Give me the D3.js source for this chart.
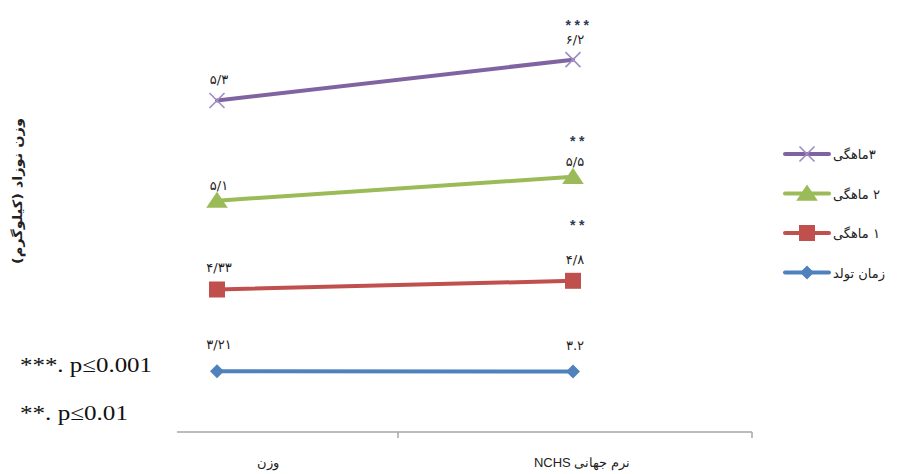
<!DOCTYPE html>
<html><head><meta charset="utf-8">
<script src="https://cdn.jsdelivr.net/npm/d3@7"></script>
<style>body{margin:0;background:#fff}svg{display:block}</style>
</head><body>
<svg id="chart" width="906" height="474"></svg>
<script>
// ---- data ----
const categories = ["وزن", "نرم جهانی NCHS"];
const seriesNames = ["زمان تولد", "۱ ماهگی", "۲ ماهگی", "۳ماهگی"];
const birthValues = [3.21, 3.2];
const month1Values = [4.33, 4.8];
const month2Values = [4.7, 5.5];
const month3Values = [5.3, 6.2];
const birthLabels = ["۳/۲۱", "۳.۲"];
const month1Labels = ["۴/۳۳", "۴/۸"];
const month2Labels = ["۵/۱", "۵/۵"];
const month3Labels = ["۵/۳", "۶/۲"];
const month1Stars = ["", "**"];
const month2Stars = ["", "**"];
const month3Stars = ["", "***"];
const yTitle = "وزن نوزاد (کیلوگرم)";
const pNotes = ["***. p≤0.001", "**. p≤0.01"];

// ---- styles ----
const seriesStyle = [
  {color:"#4F81BD", marker:"diamond", labelDy:27, starDy:0},
  {color:"#C0504D", marker:"square", labelDy:22, starDy:57},
  {color:"#9BBB59", marker:"triangle", labelDy:16, starDy:37},
  {color:"#8064A2", marker:"x", labelDy:21, starDy:36}
];
const values = [birthValues, month1Values, month2Values, month3Values];
const labels = [birthLabels, month1Labels, month2Labels, month3Labels];
const stars = [["",""], month1Stars, month2Stars, month3Stars];

const svg = d3.select("#chart");
const persianFont = "DejaVu Sans, Noto Sans, sans-serif";

const x = d3.scalePoint().domain(categories).range([217, 573]);
const y = d3.scaleLinear().domain([0, 20]).range([432, 54]);

// stacked
const stacked = d3.stack().keys(d3.range(values.length))(
  categories.map((c, i) => Object.fromEntries(values.map((v, s) => [s, v[i]])))
);

// axis
const axisColor = "#a6a6a6";
svg.append("line").attr("x1", 177).attr("x2", 752).attr("y1", y(0)).attr("y2", y(0))
  .attr("stroke", axisColor).attr("stroke-width", 1.5);
[398, 752].forEach(tx => {
  svg.append("line").attr("x1", tx).attr("x2", tx).attr("y1", y(0)).attr("y2", y(0) + 6)
    .attr("stroke", axisColor).attr("stroke-width", 1.5);
});
const catDx = [51, 9];
svg.selectAll("text.cat").data(categories).join("text").attr("class", "cat")
  .attr("x", (d, i) => x(d) + catDx[i]).attr("y", 467)
  .attr("text-anchor", "middle").attr("direction", "rtl")
  .attr("font-family", "Liberation Sans, Arial, sans-serif")
  .attr("font-size", 13).attr("fill", "#222").text(d => d);

function markerPath(type, size) {
  const s = size;
  if (type === "diamond") return `M0,${-s}L${s},0L0,${s}L${-s},0Z`;
  if (type === "square") return `M${-s},${-s}H${s}V${s}H${-s}Z`;
  if (type === "triangle") return `M0,${-s}L${s*1.2},${s*0.8}L${-s*1.2},${s*0.8}Z`;
  return `M${-s},${-s}L${s},${s}M${-s},${s}L${s},${-s}`;
}
function drawMarker(g, type, color, cx, cy) {
  const sizes = {diamond:7, square:8, triangle:9, x:7.5};
  const p = g.append("path").attr("d", markerPath(type, sizes[type]))
    .attr("transform", `translate(${cx},${cy})`);
  if (type === "x") p.attr("fill", "none").attr("stroke", "#A08CC4").attr("stroke-width", 1.6);
  else p.attr("fill", color);
}

const line = d3.line().x((d, i) => x(categories[i])).y(d => y(d[1]));

stacked.forEach((layer, s) => {
  const st = seriesStyle[s];
  const g = svg.append("g");
  g.append("path").datum(layer).attr("d", line).attr("fill", "none")
    .attr("stroke", st.color).attr("stroke-width", 4).attr("stroke-linecap", "round");
  layer.forEach((d, i) => drawMarker(g, st.marker, st.color, x(categories[i]), y(d[1])));
  layer.forEach((d, i) => {
    g.append("text").attr("x", x(categories[i]) + 2).attr("y", y(d[1]) - st.labelDy + 5)
      .attr("text-anchor", "middle").attr("direction", "rtl").attr("font-family", persianFont)
      .attr("font-size", 13).attr("fill", "#222").text(labels[s][i]);
    if (stars[s][i]) {
      g.append("text").attr("x", x(categories[i]) + 6).attr("y", y(d[1]) - st.starDy + 6)
        .attr("text-anchor", "middle").attr("font-family", "Liberation Sans, Arial, sans-serif")
        .attr("font-size", 14).attr("font-weight", "bold").attr("letter-spacing", 3.5)
        .attr("fill", "#2b3a55").text(stars[s][i]);
    }
  });
});

// y title
svg.append("text").attr("transform", "translate(22,191) rotate(-90)")
  .attr("text-anchor", "middle").attr("direction", "rtl").attr("font-family", persianFont)
  .attr("font-size", 13).attr("font-weight", "bold").attr("fill", "#222")
  .attr("textLength", 146).attr("lengthAdjust", "spacingAndGlyphs").text(yTitle);

// p notes
const pLen = [132, 108];
svg.selectAll("text.pn").data(pNotes).join("text").attr("class", "pn")
  .attr("x", 20).attr("y", (d, i) => 372 + i * 48)
  .attr("font-family", "Liberation Serif, Times New Roman, serif").attr("font-size", 21)
  .attr("textLength", (d, i) => pLen[i]).attr("lengthAdjust", "spacingAndGlyphs")
  .attr("fill", "#111").text(d => d);

// legend (reverse order, top = last series)
const legendOrder = d3.range(seriesNames.length).reverse();
legendOrder.forEach((s, k) => {
  const ly = 154 + k * 39.5;
  const st = seriesStyle[s];
  const g = svg.append("g");
  g.append("line").attr("x1", 785).attr("x2", 829).attr("y1", ly).attr("y2", ly)
    .attr("stroke", st.color).attr("stroke-width", 4).attr("stroke-linecap", "round");
  drawMarker(g, st.marker, st.color, 807, ly);
  g.append("text").attr("x", 833).attr("y", ly + 5).attr("direction", "rtl")
    .attr("text-anchor", "end").attr("font-family", persianFont)
    .attr("font-size", 13).attr("fill", "#222").text(seriesNames[s]);
});
</script>
</body></html>
